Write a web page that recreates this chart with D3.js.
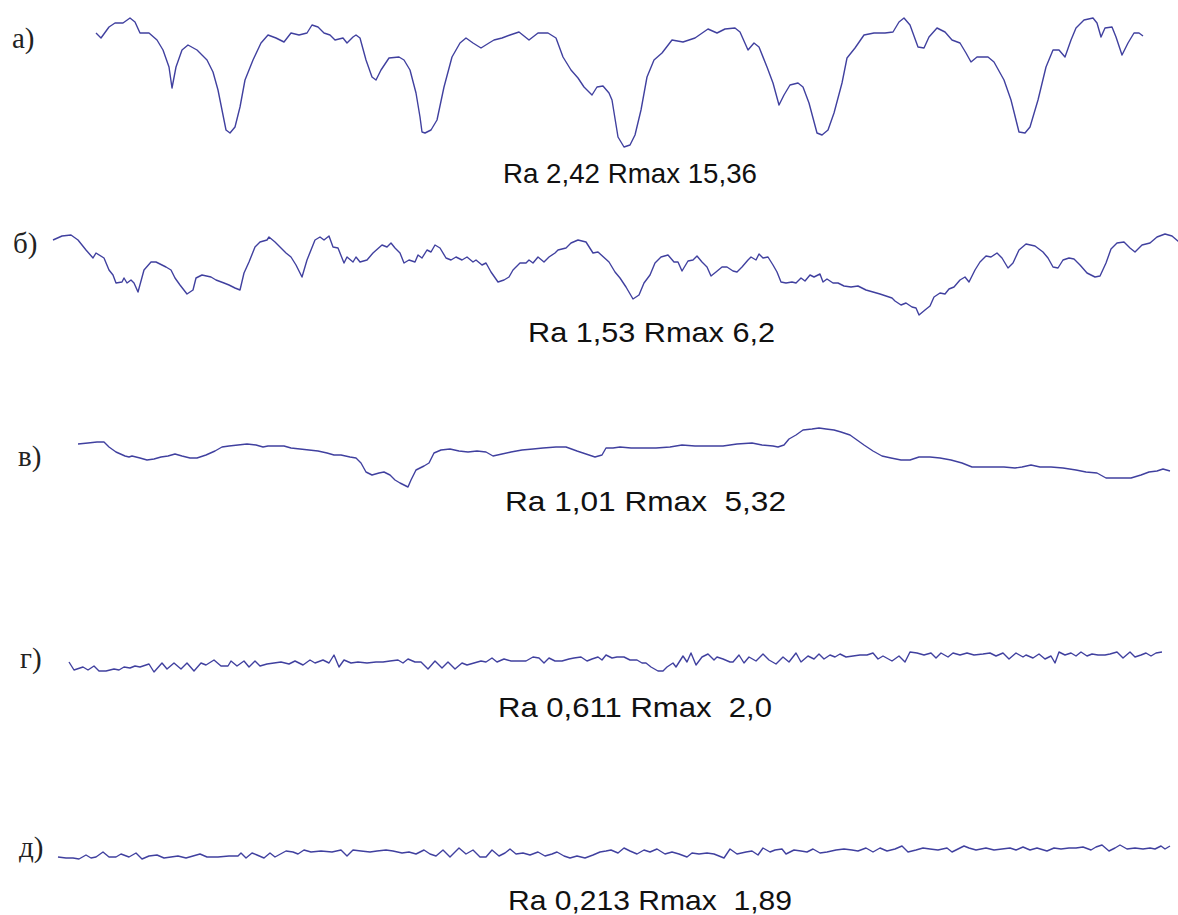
<!DOCTYPE html>
<html>
<head>
<meta charset="utf-8">
<script src="https://cdn.jsdelivr.net/npm/d3@7"></script>
<style>
  body { margin: 0; background: #fff; }
  svg { display: block; }
  text { white-space: pre; }
</style>
</head>
<body>
<svg id="chart"></svg>
<script>
// profile labels and roughness captions
const labels = ['а)', 'б)', 'в)', 'г)', 'д)']
const captions = ['Ra 2,42 Rmax 15,36', 'Ra 1,53 Rmax 6,2', 'Ra 1,01 Rmax  5,32',
    'Ra 0,611 Rmax  2,0', 'Ra 0,213 Rmax  1,89']

// profilograms: [position along trace, height]
const profileA = [[46,117],[51,112],[59,123],[65,127],[73,127],[80,132],[85,128],[90,117],[99,117],
    [107,110],[113,100],[119,83],[122,62],[126,83],[132,100],[138,105],[147,100],[157,90],[163,78],
    [168,60],[172,40],[176,20],[180,17],[185,23],[190,43],[195,70],[203,90],[211,107],[218,115],
    [226,112],[234,108],[241,117],[249,115],[257,117],[262,125],[268,123],[274,117],[280,115],
    [285,110],[293,112],[297,107],[303,113],[306,115],[310,112],[316,90],[322,73],[326,70],[331,80],
    [339,92],[349,93],[354,90],[360,80],[366,57],[370,33],[372,18],[375,17],[381,20],[387,30],
    [394,63],[402,93],[410,107],[416,112],[423,107],[431,102],[439,107],[444,110],[452,112],
    [460,115],[469,118],[479,110],[488,117],[498,117],[506,112],[513,93],[521,80],[528,72],[534,63],
    [542,55],[547,63],[553,64],[559,57],[562,50],[568,13],[574,3],[580,5],[585,15],[591,40],[597,73],
    [604,90],[612,97],[622,110],[633,108],[645,112],[658,121],[667,117],[675,121],[685,122],
    [690,118],[698,100],[704,107],[709,103],[717,83],[723,67],[729,45],[734,55],[740,65],[748,67],
    [753,63],[759,47],[767,17],[772,15],[778,20],[784,37],[792,67],[797,92],[805,102],[814,115],
    [824,117],[835,117],[843,118],[849,128],[854,132],[860,125],[868,103],[874,102],[879,113],
    [887,122],[895,118],[902,110],[910,107],[916,97],[921,88],[927,93],[938,93],[944,88],[954,70],
    [961,50],[969,18],[975,17],[980,23],[988,50],[996,83],[1003,100],[1009,100],[1015,93],
    [1021,110],[1026,122],[1034,130],[1043,132],[1047,127],[1051,113],[1055,122],[1062,123],
    [1066,113],[1072,95],[1078,107],[1084,117],[1089,117],[1093,114]]

const profileB = [[3,80],[12,84],[21,85],[28,80],[36,70],[43,62],[46,67],[54,62],[59,50],[63,45],
    [66,37],[72,38],[74,42],[77,37],[81,40],[84,37],[88,28],[94,50],[101,58],[106,58],[116,53],
    [121,50],[125,42],[130,35],[137,26],[143,30],[146,42],[152,45],[161,43],[166,40],[174,37],
    [179,35],[185,32],[190,30],[194,47],[199,58],[205,73],[210,78],[217,80],[219,83],[225,78],
    [230,73],[236,67],[241,63],[246,55],[252,43],[257,60],[265,80],[270,83],[274,80],[279,84],
    [283,73],[288,72],[294,57],[297,63],[303,58],[306,63],[310,58],[317,60],[323,67],[332,75],
    [337,73],[341,77],[345,72],[350,67],[354,57],[359,60],[365,58],[368,65],[372,62],[377,70],
    [381,68],[385,75],[390,72],[396,62],[401,60],[406,63],[412,60],[417,63],[423,58],[426,60],
    [432,55],[436,57],[441,48],[448,38],[454,40],[459,43],[463,50],[470,57],[476,57],[479,60],
    [483,57],[488,63],[494,58],[499,63],[505,67],[508,70],[516,72],[521,77],[528,80],[536,78],
    [543,67],[548,68],[559,58],[565,48],[570,42],[576,33],[583,21],[589,25],[594,37],[600,45],
    [605,57],[611,63],[618,65],[624,58],[628,58],[632,49],[638,59],[643,60],[647,64],[652,58],
    [657,53],[661,44],[666,48],[672,53],[677,53],[683,49],[687,48],[692,53],[698,60],[701,63],
    [706,60],[709,66],[713,62],[718,63],[723,55],[727,48],[731,38],[736,37],[742,38],[746,37],
    [751,42],[755,39],[760,45],[764,43],[770,46],[773,38],[777,41],[783,37],[788,37],[794,34],
    [801,33],[808,34],[816,30],[823,28],[830,26],[836,24],[842,22],[845,19],[851,15],[856,17],
    [862,13],[866,12],[869,5],[875,10],[880,14],[884,23],[890,27],[895,26],[899,31],[904,33],
    [910,40],[915,43],[919,38],[925,50],[930,58],[936,64],[941,63],[947,67],[952,62],[958,52],
    [963,57],[969,70],[976,76],[985,74],[993,68],[998,62],[1003,53],[1008,52],[1013,60],[1019,62],
    [1024,61],[1030,55],[1037,47],[1045,43],[1050,44],[1056,57],[1061,71],[1067,77],[1074,78],
    [1080,72],[1085,68],[1092,75],[1100,77],[1107,83],[1115,86],[1122,84],[1129,78]]

const profileC = [[28,46],[38,47],[47,48],[54,48],[59,43],[66,38],[75,34],[79,33],[82,34],[90,32],
    [97,30],[104,31],[111,33],[118,34],[125,36],[132,34],[140,32],[147,32],[156,35],[165,39],
    [172,43],[179,44],[188,45],[197,46],[206,45],[213,43],[218,44],[225,44],[234,44],[241,42],
    [250,41],[259,40],[268,39],[277,37],[284,35],[291,35],[300,33],[306,32],[311,27],[316,18],
    [322,15],[329,17],[334,18],[340,15],[345,10],[350,7],[358,3],[361,10],[366,20],[374,24],
    [379,27],[384,37],[391,40],[400,41],[409,39],[418,38],[427,39],[436,38],[443,34],[452,36],
    [461,38],[472,40],[483,41],[493,42],[506,43],[516,43],[527,39],[536,36],[545,33],[552,35],
    [556,42],[563,42],[570,43],[581,42],[591,42],[606,42],[620,43],[632,45],[645,44],[659,44],
    [673,44],[687,46],[702,47],[712,45],[723,44],[728,43],[734,45],[739,51],[746,55],[753,60],
    [762,61],[769,62],[776,61],[784,60],[791,58],[800,55],[807,50],[814,45],[823,39],[832,34],
    [841,32],[851,30],[860,30],[869,33],[880,33],[890,32],[901,30],[912,27],[922,23],[933,23],
    [945,23],[954,23],[965,22],[972,23],[981,25],[990,23],[1001,23],[1013,22],[1026,20],[1036,18],
    [1047,17],[1056,12],[1068,12],[1081,12],[1091,15],[1099,18],[1107,19],[1113,21],[1120,19]]

const profileD = [[19,13],[24,5],[30,7],[33,8],[38,5],[44,9],[49,4],[56,4],[64,6],[69,5],[74,8],
    [80,7],[85,9],[90,8],[99,11],[104,3],[112,12],[117,6],[124,12],[131,6],[137,12],[144,4],
    [151,12],[156,10],[164,15],[171,9],[178,9],[181,14],[187,9],[194,14],[199,8],[205,14],[210,9],
    [217,11],[224,12],[231,13],[239,11],[245,14],[253,10],[260,15],[265,12],[273,15],[279,12],
    [284,20],[289,8],[294,15],[301,12],[308,13],[317,12],[326,13],[333,13],[340,14],[348,15],
    [353,12],[358,16],[365,13],[371,13],[378,6],[385,14],[392,7],[398,13],[405,6],[412,12],
    [417,10],[424,12],[431,14],[436,13],[442,17],[447,13],[454,16],[461,14],[469,14],[476,14],
    [483,18],[489,17],[494,12],[499,17],[505,14],[512,14],[519,16],[524,17],[531,18],[537,14],
    [542,16],[548,18],[552,15],[556,20],[562,17],[567,18],[574,18],[580,15],[587,15],[592,12],
    [596,12],[601,8],[608,4],[613,4],[617,8],[623,12],[626,8],[633,19],[637,13],[641,22],[646,10],
    [652,18],[658,21],[664,15],[667,18],[673,16],[680,13],[683,13],[689,20],[694,12],[699,18],
    [706,14],[713,21],[719,15],[726,11],[733,18],[739,13],[746,22],[751,13],[758,19],[764,16],
    [769,21],[774,16],[780,20],[785,18],[790,21],[796,18],[803,19],[810,20],[817,20],[823,22],
    [828,16],[833,19],[842,14],[849,19],[855,13],[860,23],[867,22],[874,20],[881,22],[886,17],
    [891,22],[898,18],[903,22],[910,20],[917,22],[924,20],[933,21],[940,22],[946,19],[953,22],
    [959,16],[966,22],[973,18],[976,20],[983,17],[989,21],[995,16],[1001,19],[1005,12],[1009,23],
    [1015,20],[1021,22],[1026,19],[1031,23],[1037,19],[1042,21],[1048,20],[1055,20],[1060,21],
    [1067,23],[1073,17],[1080,23],[1085,18],[1091,20],[1096,22],[1101,19],[1106,22],[1112,23]]

const profileE = [[8,5],[16,4],[23,4],[29,3],[36,7],[41,4],[46,5],[53,10],[59,5],[66,5],[71,8],
    [79,5],[86,9],[92,3],[99,6],[107,7],[114,4],[121,5],[128,6],[136,4],[143,6],[150,8],[157,5],
    [168,5],[179,6],[188,6],[191,9],[196,4],[202,9],[207,7],[214,4],[220,9],[225,5],[236,11],
    [243,10],[248,8],[254,12],[261,10],[271,11],[282,10],[291,12],[297,6],[303,12],[311,11],
    [320,10],[327,11],[336,12],[343,11],[352,9],[359,10],[366,8],[374,12],[380,8],[386,6],[393,12],
    [400,5],[409,14],[416,8],[423,12],[430,5],[436,5],[442,12],[449,6],[455,9],[460,13],[466,8],
    [473,9],[480,7],[488,10],[495,6],[502,8],[507,10],[514,6],[520,4],[527,6],[535,4],[543,7],
    [550,10],[556,11],[561,12],[568,9],[574,14],[580,11],[587,8],[594,12],[600,10],[607,13],
    [615,8],[622,10],[629,8],[637,5],[642,9],[649,8],[657,9],[664,8],[674,4],[680,13],[687,8],
    [696,10],[702,11],[708,7],[713,14],[720,10],[725,12],[732,13],[736,8],[744,12],[751,11],
    [757,10],[763,13],[770,9],[777,10],[786,12],[794,13],[802,12],[808,11],[816,14],[823,10],
    [830,14],[837,11],[845,13],[852,16],[858,10],[866,12],[873,14],[880,13],[888,12],[897,14],
    [902,10],[908,13],[914,16],[919,14],[926,12],[936,14],[944,12],[952,13],[960,14],[966,12],
    [973,15],[980,12],[987,14],[997,11],[1004,14],[1011,13],[1019,14],[1026,14],[1033,15],
    [1041,12],[1046,15],[1052,17],[1059,11],[1065,14],[1070,17],[1077,13],[1085,14],[1093,13],
    [1100,14],[1105,13],[1111,16],[1115,13],[1120,16]]

const profiles = [profileA, profileB, profileC, profileD, profileE]

// layout
const width = 1178
const height = 915
const panelBase = [150, 320, 490, 675, 862]
const labelPos = [[12, 48], [13, 253], [18, 466], [20, 668], [19, 857]]
const captionPos = [[503, 183], [528, 342], [505, 511], [498, 717], [508, 910]]
const captionWidth = [254, 247, 281, 274, 284]
const lineColor = '#40409f'

const svg = d3.select('#chart')
    .attr('width', width)
    .attr('height', height)

svg.append('rect')
    .attr('width', width)
    .attr('height', height)
    .attr('fill', '#fff')

const x = d3.scaleLinear()
    .domain([0, 1128])
    .range([50, 1178])

profiles.forEach((data, i) => {
    const y = d3.scaleLinear()
        .domain([0, 150])
        .range([panelBase[i], panelBase[i] - 150])

    const line = d3.line()
        .x(d => x(d[0]))
        .y(d => y(d[1]))

    svg.append('path')
        .datum(data)
        .attr('d', line)
        .attr('fill', 'none')
        .attr('stroke', lineColor)
        .attr('stroke-width', 1.4)
        .attr('stroke-linejoin', 'round')

    // panel letter
    svg.append('text')
        .attr('x', labelPos[i][0])
        .attr('y', labelPos[i][1])
        .attr('font-family', '"Liberation Serif", "Times New Roman", serif')
        .attr('font-size', '29px')
        .attr('fill', '#222')
        .text(labels[i])

    // roughness values under the trace
    svg.append('text')
        .attr('x', captionPos[i][0])
        .attr('y', captionPos[i][1])
        .attr('font-family', '"Liberation Sans", Arial, sans-serif')
        .attr('font-size', '28px')
        .attr('fill', '#111')
        .attr('textLength', captionWidth[i])
        .attr('lengthAdjust', 'spacingAndGlyphs')
        .text(captions[i])
})
</script>
</body>
</html>
